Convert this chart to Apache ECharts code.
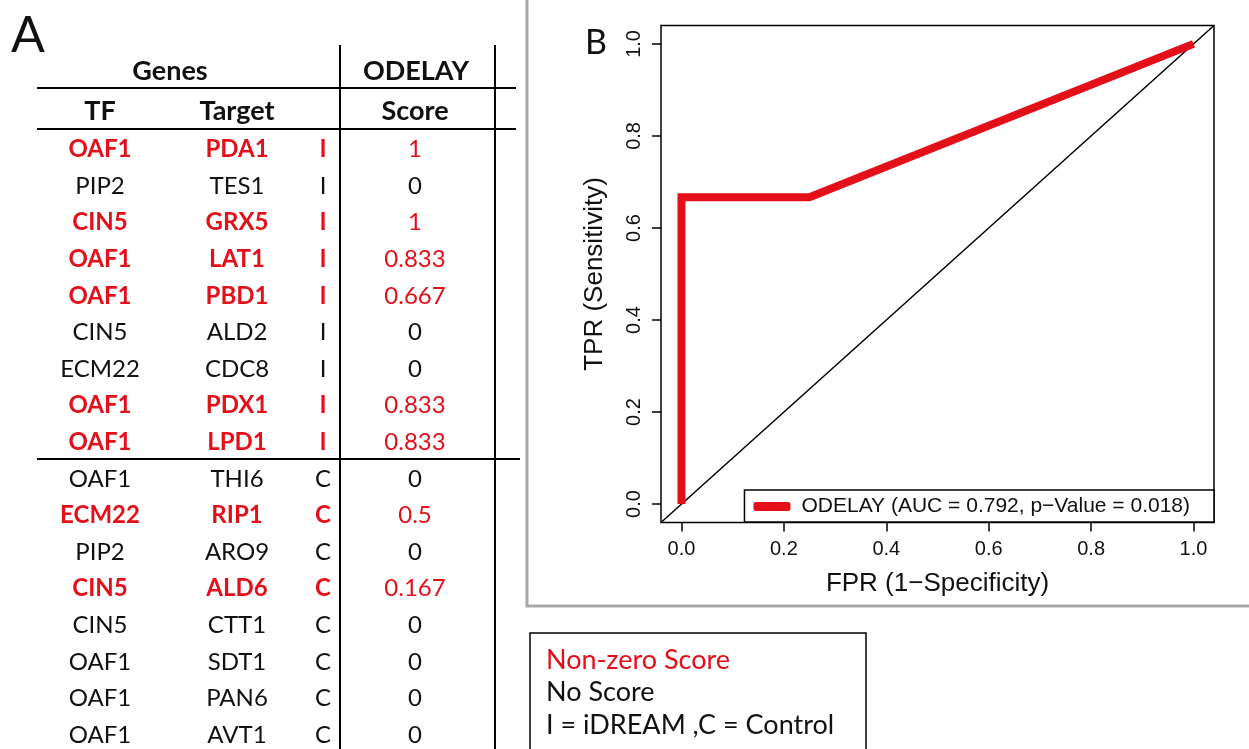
<!DOCTYPE html>
<html>
<head>
<meta charset="utf-8">
<script src="https://cdn.jsdelivr.net/npm/echarts@6/dist/echarts.min.js"></script>
<style>
  html, body { margin: 0; padding: 0; background: #fff; }
  #main { width: 1249px; height: 749px; }
</style>
</head>
<body>
<div id="main"></div>
<script>
// table (panel A)
var tfGenes = ['OAF1', 'PIP2', 'CIN5', 'OAF1', 'OAF1', 'CIN5', 'ECM22', 'OAF1', 'OAF1',
  'OAF1', 'ECM22', 'PIP2', 'CIN5', 'CIN5', 'OAF1', 'OAF1', 'OAF1'];
var targetGenes = ['PDA1', 'TES1', 'GRX5', 'LAT1', 'PBD1', 'ALD2', 'CDC8', 'PDX1', 'LPD1',
  'THI6', 'RIP1', 'ARO9', 'ALD6', 'CTT1', 'SDT1', 'PAN6', 'AVT1'];
var setLabels = ['I', 'I', 'I', 'I', 'I', 'I', 'I', 'I', 'I',
  'C', 'C', 'C', 'C', 'C', 'C', 'C', 'C'];
var odelayScores = [1, 0, 1, 0.833, 0.667, 0, 0, 0.833, 0.833,
  0, 0.5, 0, 0.167, 0, 0, 0, 0];

// ROC curve (panel B)
var fprValues = [0, 0, 0.25, 1];
var tprValues = [0, 0.667, 0.667, 1];
var tickValues = [0, 0.2, 0.4, 0.6, 0.8, 1.0];
var rocName = 'ODELAY (AUC = 0.792, p\u2212Value = 0.018)';
var legendLines = ['Non-zero Score', 'No Score', 'I = iDREAM ,C = Control'];

var RED = '#e3101a';
var tableFont = 'Lato';
var plotFont = 'Liberation Sans';

var chart = echarts.init(document.getElementById('main'), null, { renderer: 'canvas' });

function txt(str, x, y, opt) {
  opt = opt || {};
  return {
    type: 'text',
    x: x, y: y,
    silent: true,
    style: {
      text: str,
      fill: opt.color || '#111',
      font: (opt.weight || 'normal') + ' ' + (opt.size || 24) + 'px ' + (opt.family || tableFont),
      align: opt.align || 'center',
      verticalAlign: 'middle'
    }
  };
}
function seg(x1, y1, x2, y2, w, c) {
  return {
    type: 'line', silent: true,
    shape: { x1: x1, y1: y1, x2: x2, y2: y2 },
    style: { stroke: c || '#000', lineWidth: w || 2 }
  };
}

var colX = { tf: 100, target: 237, set: 323, score: 415 };
var rowY0 = 149.5, rowStep = 36.6;

var graphics = [];
graphics.push(txt('A', 28, 36, { size: 50 }));
graphics.push(txt('Genes', 170, 71, { size: 27, weight: 'bold' }));
graphics.push(txt('ODELAY', 416, 71, { size: 27, weight: 'bold' }));
graphics.push(txt('TF', colX.tf, 111, { size: 27, weight: 'bold' }));
graphics.push(txt('Target', colX.target, 111, { size: 27, weight: 'bold' }));
graphics.push(txt('Score', colX.score, 111, { size: 27, weight: 'bold' }));

for (var i = 0; i < tfGenes.length; i++) {
  var y = rowY0 + i * rowStep;
  var hit = odelayScores[i] > 0;
  var o = hit ? { color: RED, weight: 'bold' } : {};
  graphics.push(txt(tfGenes[i], colX.tf, y, o));
  graphics.push(txt(targetGenes[i], colX.target, y, o));
  graphics.push(txt(setLabels[i], colX.set, y, o));
  graphics.push(txt(String(odelayScores[i]), colX.score, y, hit ? { color: RED } : {}));
}
graphics.push(seg(37, 88, 516, 88));
graphics.push(seg(37, 129, 516, 129));
graphics.push(seg(37, 459, 520, 459));
graphics.push(seg(340, 45, 340, 749));
graphics.push(seg(495, 45, 495, 749));

// panel B frame
graphics.push({
  type: 'polyline', silent: true,
  shape: { points: [[527, 0], [527, 606], [1249, 606]] },
  style: { stroke: '#a8a8a8', lineWidth: 3, fill: null }
});
graphics.push(txt('B', 596, 43, { size: 34 }));

// key box
graphics.push({
  type: 'rect', silent: true,
  shape: { x: 530, y: 633, width: 336, height: 140 },
  style: { stroke: '#000', lineWidth: 1.5, fill: '#fff' }
});
legendLines.forEach(function (s, k) {
  graphics.push(txt(s, 546, 660 + k * 32.5, { size: 27, align: 'left', color: k === 0 ? RED : '#111' }));
});

var rocData = fprValues.map(function (v, k) { return [v, tprValues[k]]; });

chart.setOption({
  backgroundColor: '#fff',
  animation: false,
  grid: {
    left: 661, top: 25.5, width: 553, height: 497,
    show: true, borderColor: '#000', borderWidth: 1.5, backgroundColor: 'transparent'
  },
  legend: {
    data: [rocName],
    right: 35, top: 490,
    padding: [6, 24, 5, 9],
    backgroundColor: '#fff',
    borderColor: '#000', borderWidth: 1.5, borderRadius: 0,
    icon: 'roundRect',
    itemWidth: 37, itemHeight: 9,
    itemStyle: { color: RED },
    textStyle: { fontFamily: plotFont, fontSize: 21, color: '#111', padding: [0, 0, 0, 6] }
  },
  xAxis: {
    type: 'value', min: -0.04, max: 1.04,
    name: 'FPR (1\u2212Specificity)', nameLocation: 'middle', nameGap: 48,
    nameTextStyle: { fontFamily: plotFont, fontSize: 26, color: '#111' },
    axisLine: { show: false, onZero: false },
    splitLine: { show: false },
    axisTick: { show: true, customValues: tickValues, length: 9, lineStyle: { color: '#000', width: 1.5 } },
    axisLabel: {
      customValues: tickValues, margin: 17,
      formatter: function (v) { return v.toFixed(1); },
      fontFamily: plotFont, fontSize: 20, color: '#111'
    }
  },
  yAxis: {
    type: 'value', min: -0.04, max: 1.04,
    name: 'TPR (Sensitivity)', nameLocation: 'middle', nameGap: 53,
    nameTextStyle: { fontFamily: plotFont, fontSize: 26, color: '#111' },
    axisLine: { show: false, onZero: false },
    splitLine: { show: false },
    axisTick: { show: true, customValues: tickValues, length: 9, lineStyle: { color: '#000', width: 1.5 } },
    axisLabel: {
      customValues: tickValues, margin: 17, rotate: 90,
      formatter: function (v) { return v.toFixed(1); },
      fontFamily: plotFont, fontSize: 20, color: '#111'
    }
  },
  series: [{
    name: 'diag',
    type: 'line',
    data: [[-0.04, -0.04], [1.04, 1.04]],
    symbol: 'none', silent: true,
    lineStyle: { color: '#000', width: 1.5 },
    z: 1
  }, {
    name: rocName,
    type: 'line',
    data: rocData,
    symbol: 'none',
    lineStyle: { color: RED, width: 8, join: 'miter' },
    itemStyle: { color: RED },
    z: 3
  }],
  graphic: graphics
});
</script>
</body>
</html>
